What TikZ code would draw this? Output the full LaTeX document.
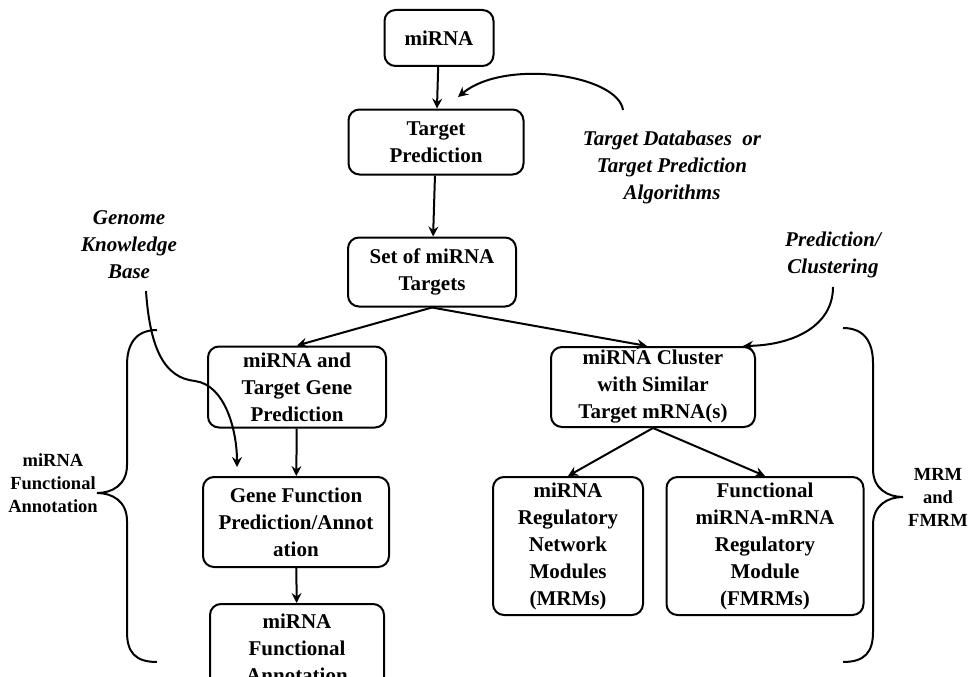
\documentclass[tikz,border=0pt]{standalone}
\usepackage{fontspec}
\setmainfont{Liberation Serif}
\usetikzlibrary{arrows.meta}
\begin{document}
\begin{tikzpicture}[x=1pt,y=-1pt,
  box/.style={draw, line width=2pt, rounded corners=11pt, align=center, inner sep=0pt,
    font=\bfseries\fontsize{21}{27}\selectfont},
  lbl/.style={align=center, inner sep=0pt, font=\bfseries\itshape\fontsize{21}{27}\selectfont},
  side/.style={align=center, inner sep=0pt, font=\bfseries\fontsize{18.5}{23}\selectfont},
  arr/.style={line width=2pt, -{Stealth[length=10pt,width=10pt,inset=3.5pt]}},
  brace/.style={line width=2pt}]
\useasboundingbox (0,0) rectangle (972,677);
% boxes
\node[box, minimum width=109pt, minimum height=56pt] (mirna) at (439,38) {miRNA};
\node[box, minimum width=175pt, minimum height=65pt] (tp) at (436,142) {Target\\Prediction};
\node[box, minimum width=168pt, minimum height=69pt] (set) at (432,272) {Set of miRNA\\Targets};
\node[box, minimum width=178pt, minimum height=81pt] (mtg) at (297,387) {miRNA and\\Target Gene\\Prediction};
\node[box, minimum width=186pt, minimum height=90pt] (gf) at (296,522) {Gene Function\\Prediction/Annot\\ation};
\node[box, minimum width=174pt, minimum height=88pt, anchor=north] (mfa) at (297,603) {miRNA\\Functional\\Annotation};
\node[box, minimum width=204pt, minimum height=80pt] (cl) at (653,387) {miRNA Cluster\\with Similar\\Target mRNA(s)};
\node[box, minimum width=150pt, minimum height=138pt] (mrm) at (568,546) {miRNA\\Regulatory\\Network\\Modules\\(MRMs)};
\node[box, minimum width=197pt, minimum height=138pt] (fmrm) at (765,546) {Functional\\miRNA-mRNA\\Regulatory\\Module\\(FMRMs)};
% labels
\node[lbl] (tdb) at (672,167) {Target Databases\ \ or\\Target Prediction\\Algorithms};
\node[lbl] (gkb) at (129,245) {Genome\\Knowledge\\Base};
\node[lbl] (pc) at (833,255) {Prediction/\\Clustering};
\node[side] (lfa) at (53,483) {miRNA\\Functional\\Annotation};
\node[side] (rfa) at (938,497) {MRM\\and\\FMRM};
% free ends
\coordinate (tdbs) at (623,110);
\coordinate (tdbe) at (458,97);
\coordinate (gkbs) at (146,291);
\coordinate (gkbe) at (237,467);
\coordinate (pcs) at (833,287);
\coordinate (pce) at (743,346);
% arrows
\draw[arr] (mirna) -- (tp);
\draw[arr] (tp) -- (set);
\draw[arr] (set.south) -- (mtg.north);
\draw[arr] (set.south) -- ([xshift=-6pt]cl.north);
\draw[arr] (mtg) -- (gf);
\draw[arr] (gf) -- (mfa);
\draw[arr] (cl.south) -- (mrm.north);
\draw[arr] (cl.south) -- (fmrm.north);
\draw[arr] (tdbs) .. controls (618,75) and (505,58) .. (tdbe);
\draw[arr] (gkbs) .. controls (150,350) and (165,378) .. (195,381) .. controls (225,385) and (237,430) .. (gkbe);
\draw[arr] (pcs) .. controls (833,325) and (795,345) .. (pce);
% braces
\draw[brace] (157,330) .. controls (135,330) and (127,345) .. (127,365) -- (127,465)
  .. controls (127,485) and (112,493) .. (97,493) .. controls (112,493) and (127,501) .. (127,521)
  -- (127,632) .. controls (127,652) and (135,662) .. (157,662);
\draw[brace] (843,328) .. controls (865,328) and (873,343) .. (873,363) -- (873,469)
  .. controls (873,489) and (888,497) .. (903,497) .. controls (888,497) and (873,505) .. (873,525)
  -- (873,632) .. controls (873,652) and (865,662) .. (843,662);
\end{tikzpicture}
\end{document}
